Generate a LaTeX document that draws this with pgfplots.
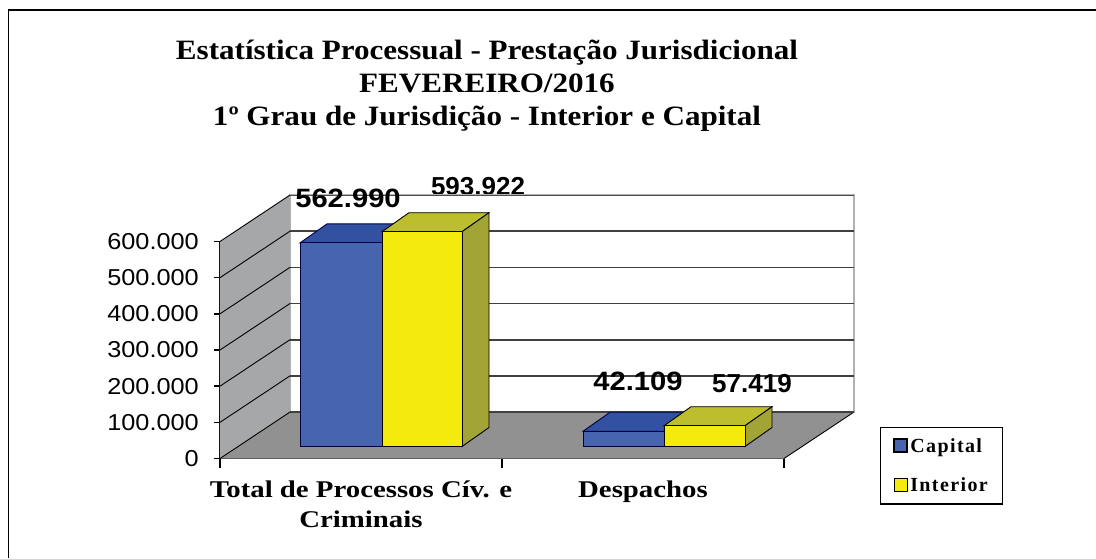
\documentclass[border=0pt]{standalone}
\usepackage{fontspec}
\setmainfont{Liberation Serif}
\newfontfamily\arial{Liberation Sans}
\newfontfamily\arialwide[FakeStretch=1.1]{Liberation Sans}
\newfontfamily\titlewide[FakeStretch=1.11]{Liberation Serif}
\newfontfamily\labelwide[FakeStretch=1.2]{Liberation Serif}
\usepackage{pgfplots}
\pgfplotsset{compat=1.18}
\definecolor{capfront}{RGB}{70,101,174}
\definecolor{captop}{RGB}{50,81,160}
\definecolor{intfront}{RGB}{244,234,12}
\definecolor{inttop}{RGB}{189,190,46}
\definecolor{intside}{RGB}{162,164,53}
\definecolor{wallgray}{RGB}{166,167,169}
\definecolor{floorgray}{RGB}{145,145,145}
\pgfplotsset{
  wallgrid/.style={forget plot,black!75,line width=1.6pt},
  sidegrid/.style={forget plot,black,line width=0.9pt},
  xmark/.style={forget plot,black,line width=1.4pt},
  capface/.style={forget plot,draw=black!75!blue,line width=0.9pt},
  intface/.style={forget plot,draw=black,line width=0.9pt},
}
\begin{document}
% 1 px of the reference = 1 pt; y in the picture runs downwards, so nodes use (x,-y)
\begin{tikzpicture}[x=1pt,y=1pt]
  \path[use as bounding box] (0,0) rectangle (1096,-558);
  \draw[line width=1.8pt] (1096,-10) -- (8.5,-10) -- (8.5,-558);
  % this label is cut off by the back wall, so it goes under the axis
  \node[font=\arial\bfseries\fontsize{26}{28}\selectfont] at (478,-187) {593.922};
  \begin{axis}[
    scale only axis,
    width=564pt, height=217pt,
    at={(220pt,-458.5pt)}, anchor=south west,
    xmin=220, xmax=784, ymin=0, ymax=600000,
    clip=false,
    axis x line*=bottom, axis y line*=left,
    axis line style={line width=1.8pt,-},
    tick align=outside,
    scaled y ticks=false,
    ytick={0,100000,200000,300000,400000,500000,600000},
    yticklabels={0,100.000,200.000,300.000,400.000,500.000,600.000},
    yticklabel style={font=\arialwide\fontsize{23}{24}\selectfont,inner sep=1pt,xshift=-14pt},
    ytick style={line width=1.4pt,black},
    major tick length=6pt,
    xtick={361,643},
    xticklabels={{Total de Processos Cív. e\\Criminais},Despachos},
    xtick style={draw=none},
    xticklabel style={font=\labelwide\bfseries\fontsize{24}{30}\selectfont,align=center,yshift=-13pt},
    legend style={at={(1.17,0.147)},anchor=north west,draw=black,line width=1.2pt,
      font=\bfseries\fontsize{20}{22}\selectfont\addfontfeature{LetterSpace=7},
      inner xsep=13pt,inner ysep=9pt,row sep=20pt},
    legend cell align=left,
    legend image code/.code={\draw[#1] (0pt,-6pt) rectangle (13pt,7pt);},
  ]
    % back wall, floor, left wall
    \addplot[forget plot,fill=white,draw=gray!60,line width=1.5pt] coordinates {(290,128500) (854,128500) (854,728500) (290,728500)} -- cycle;
    \addplot[forget plot,fill=floorgray,draw=none] coordinates {(220,0) (784,0) (854,128500) (290,128500)} -- cycle;
    \addplot[forget plot,fill=wallgray,draw=none] coordinates {(220,0) (290,128500) (290,728500) (220,600000)} -- cycle;
    % floor edge to the right
    \addplot[sidegrid] coordinates {(784,0) (854,128500)};
    % category separators under the x axis
    \addplot[xmark] coordinates {(220,0) (220,-25000)};
    \addplot[xmark] coordinates {(502,0) (502,-25000)};
    \addplot[xmark] coordinates {(784,0) (784,-25000)};
    % grid on the back wall
    \addplot[wallgrid] coordinates {(290,128500) (854,128500)};
    \addplot[wallgrid] coordinates {(290,228500) (854,228500)};
    \addplot[wallgrid] coordinates {(290,328500) (854,328500)};
    \addplot[wallgrid] coordinates {(290,428500) (854,428500)};
    \addplot[wallgrid] coordinates {(290,528500) (854,528500)};
    \addplot[wallgrid] coordinates {(290,628500) (854,628500)};
    \addplot[forget plot,black!70,line width=1pt] coordinates {(290,728500) (854,728500)};
    % grid on the left wall
    \addplot[sidegrid] coordinates {(220,0) (290,128500)};
    \addplot[sidegrid] coordinates {(220,100000) (290,228500)};
    \addplot[sidegrid] coordinates {(220,200000) (290,328500)};
    \addplot[sidegrid] coordinates {(220,300000) (290,428500)};
    \addplot[sidegrid] coordinates {(220,400000) (290,528500)};
    \addplot[sidegrid] coordinates {(220,500000) (290,628500)};
    \addplot[sidegrid] coordinates {(220,600000) (290,728500)};
    % Capital, Total: 562990 on a base at 33180
    \addplot[capface,fill=captop] coordinates {(300,596170) (382,596170) (409,648705) (327,648705)} -- cycle;
    \addplot[capface,fill=capfront] coordinates {(300,33180) (382,33180) (382,596170) (300,596170)} -- cycle;
    % Interior, Total: 593922
    \addplot[intface,fill=inttop] coordinates {(382,627102) (462,627102) (489,679637) (409,679637)} -- cycle;
    \addplot[intface,fill=intside] coordinates {(462,33180) (489,85715) (489,679637) (462,627102)} -- cycle;
    \addplot[intface,fill=intfront] coordinates {(382,33180) (462,33180) (462,627102) (382,627102)} -- cycle;
    % Capital, Despachos: 42109
    \addplot[capface,fill=captop] coordinates {(583,75289) (664,75289) (691,127824) (610,127824)} -- cycle;
    \addplot[capface,fill=capfront] coordinates {(583,33180) (664,33180) (664,75289) (583,75289)} -- cycle;
    % Interior, Despachos: 57419
    \addplot[intface,fill=inttop] coordinates {(664,90599) (745,90599) (772,143134) (691,143134)} -- cycle;
    \addplot[intface,fill=intside] coordinates {(745,33180) (772,85715) (772,143134) (745,90599)} -- cycle;
    \addplot[intface,fill=intfront] coordinates {(664,33180) (745,33180) (745,90599) (664,90599)} -- cycle;
    \addlegendimage{fill=capfront,draw=black,line width=1.8pt}
    \addlegendentry{Capital}
    \addlegendimage{fill=intfront,draw=black,line width=1.2pt}
    \addlegendentry{Interior}
  \end{axis}
  \node[font=\arialwide\bfseries\fontsize{26.5}{28}\selectfont] at (348,-198) {562.990};
  \node[font=\arialwide\bfseries\fontsize{26.5}{28}\selectfont] at (638,-381) {42.109};
  \node[font=\arial\bfseries\fontsize{26}{28}\selectfont] at (752,-384) {57.419};
  \node[font=\titlewide\bfseries\fontsize{28}{33}\selectfont,align=center] at (487,-86)
    {Estatística Processual - Prestação Jurisdicional\\FEVEREIRO/2016\\1º Grau de Jurisdição - Interior e Capital};
\end{tikzpicture}
\end{document}
